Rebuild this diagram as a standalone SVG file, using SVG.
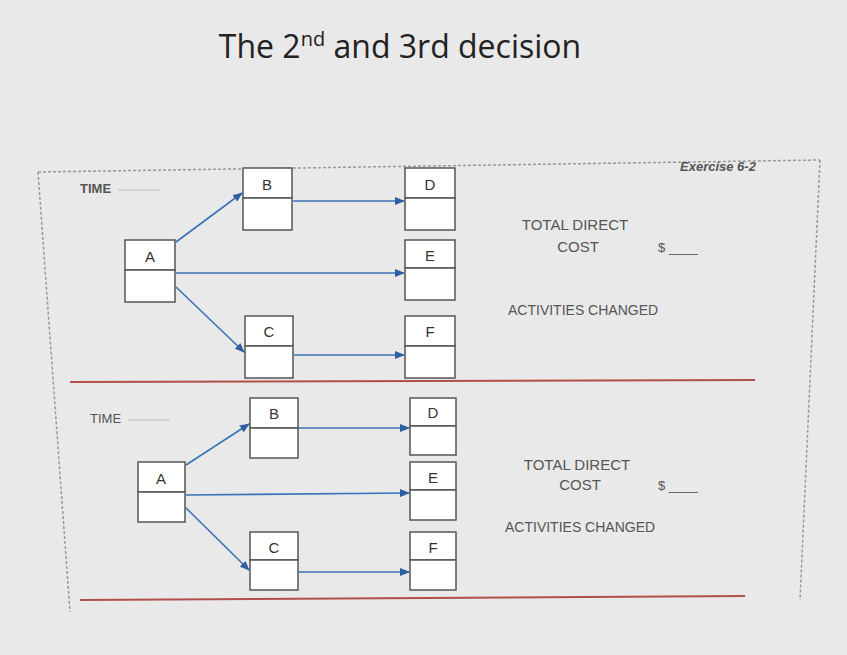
<svg xmlns="http://www.w3.org/2000/svg" width="847" height="655" viewBox="0 0 847 655">
<defs>
<marker id="ar" markerWidth="10" markerHeight="8" refX="9" refY="4" orient="auto" markerUnits="userSpaceOnUse"><path d="M0,0 L10,4 L0,8 Z" fill="#2e5f9e"/></marker>
<style>
.bx{fill:#fff;stroke:#555;stroke-width:1.5}
.lb{font-family:"Liberation Sans",Arial,sans-serif;font-size:15px;fill:#333;text-anchor:middle}
.ed{stroke:#3a73b8;stroke-width:1.6;fill:none;marker-end:url(#ar)}
.t{font-family:"Liberation Sans",Arial,sans-serif;fill:#555}
.red{stroke:#b0504a;stroke-width:2}
</style>
</defs>
<rect width="847" height="655" fill="#e9e9e9"/>
<text x="400" y="58" text-anchor="middle" font-family="'Open Sans','Liberation Sans',sans-serif" font-size="32" fill="#222">The 2<tspan font-size="20" dy="-12">nd</tspan><tspan dy="12"> and 3rd decision</tspan></text>
<path d="M38,172 L820,160 M38,172 L70,612 M820,160 L800,600" stroke="#999" stroke-width="1.5" stroke-dasharray="3,2" fill="none"/>
<line class="red" x1="70" y1="382" x2="755" y2="380"/>
<line class="red" x1="80" y1="600" x2="745" y2="596"/>
<g id="connectors">
<path class="ed" d="M176,242 L242,193"/>
<path class="ed" d="M176,273 L404,273"/>
<path class="ed" d="M176,287 L244,352"/>
<path class="ed" d="M293,201 L404,201"/>
<path class="ed" d="M294,355 L404,355"/>
<path class="ed" d="M186,465 L249,424"/>
<path class="ed" d="M186,495 L409,493"/>
<path class="ed" d="M186,508 L249,570"/>
<path class="ed" d="M299,428 L409,428"/>
<path class="ed" d="M299,572 L409,572"/>
</g>
<g id="B1"><rect class="bx" x="243" y="168" width="49" height="30"/><rect class="bx" x="243" y="198" width="49" height="32"/><text class="lb" x="267" y="190">B</text></g>
<g id="D1"><rect class="bx" x="405" y="168" width="50" height="30"/><rect class="bx" x="405" y="198" width="50" height="32"/><text class="lb" x="430" y="190">D</text></g>
<g id="A1"><rect class="bx" x="125" y="240" width="50" height="30"/><rect class="bx" x="125" y="270" width="50" height="32"/><text class="lb" x="150" y="262">A</text></g>
<g id="E1"><rect class="bx" x="405" y="240" width="50" height="28"/><rect class="bx" x="405" y="268" width="50" height="32"/><text class="lb" x="430" y="261">E</text></g>
<g id="C1"><rect class="bx" x="245" y="316" width="48" height="30"/><rect class="bx" x="245" y="346" width="48" height="32"/><text class="lb" x="269" y="337">C</text></g>
<g id="F1"><rect class="bx" x="405" y="316" width="50" height="30"/><rect class="bx" x="405" y="346" width="50" height="32"/><text class="lb" x="430" y="337">F</text></g>
<g id="B2"><rect class="bx" x="250" y="398" width="48" height="30"/><rect class="bx" x="250" y="428" width="48" height="30"/><text class="lb" x="274" y="419">B</text></g>
<g id="D2"><rect class="bx" x="410" y="398" width="46" height="28"/><rect class="bx" x="410" y="426" width="46" height="29"/><text class="lb" x="433" y="418">D</text></g>
<g id="A2"><rect class="bx" x="138" y="462" width="47" height="30"/><rect class="bx" x="138" y="492" width="47" height="30"/><text class="lb" x="161" y="484">A</text></g>
<g id="E2"><rect class="bx" x="410" y="462" width="46" height="28"/><rect class="bx" x="410" y="490" width="46" height="30"/><text class="lb" x="433" y="483">E</text></g>
<g id="C2"><rect class="bx" x="250" y="532" width="48" height="28"/><rect class="bx" x="250" y="560" width="48" height="30"/><text class="lb" x="274" y="553">C</text></g>
<g id="F2"><rect class="bx" x="410" y="532" width="46" height="28"/><rect class="bx" x="410" y="560" width="46" height="30"/><text class="lb" x="433" y="553">F</text></g>
<g id="labels">
<text class="t" x="80" y="193" font-size="13" font-weight="bold">TIME</text>
<line x1="118" y1="190" x2="160" y2="190" stroke="#bbb"/>
<text class="t" x="680" y="171" font-size="13" font-weight="bold" font-style="italic">Exercise 6-2</text>
<text class="t" x="575" y="230" font-size="15" text-anchor="middle">TOTAL DIRECT</text>
<text class="t" x="578" y="252" font-size="15" text-anchor="middle">COST</text>
<text class="t" x="658" y="252" font-size="13">$ ____</text>
<text class="t" x="508" y="315" font-size="14">ACTIVITIES CHANGED</text>
<text class="t" x="90" y="423" font-size="13">TIME</text>
<line x1="128" y1="420" x2="170" y2="420" stroke="#bbb"/>
<text class="t" x="577" y="470" font-size="15" text-anchor="middle">TOTAL DIRECT</text>
<text class="t" x="580" y="490" font-size="15" text-anchor="middle">COST</text>
<text class="t" x="658" y="490" font-size="13">$ ____</text>
<text class="t" x="505" y="532" font-size="14">ACTIVITIES CHANGED</text>
</g>
</svg>
